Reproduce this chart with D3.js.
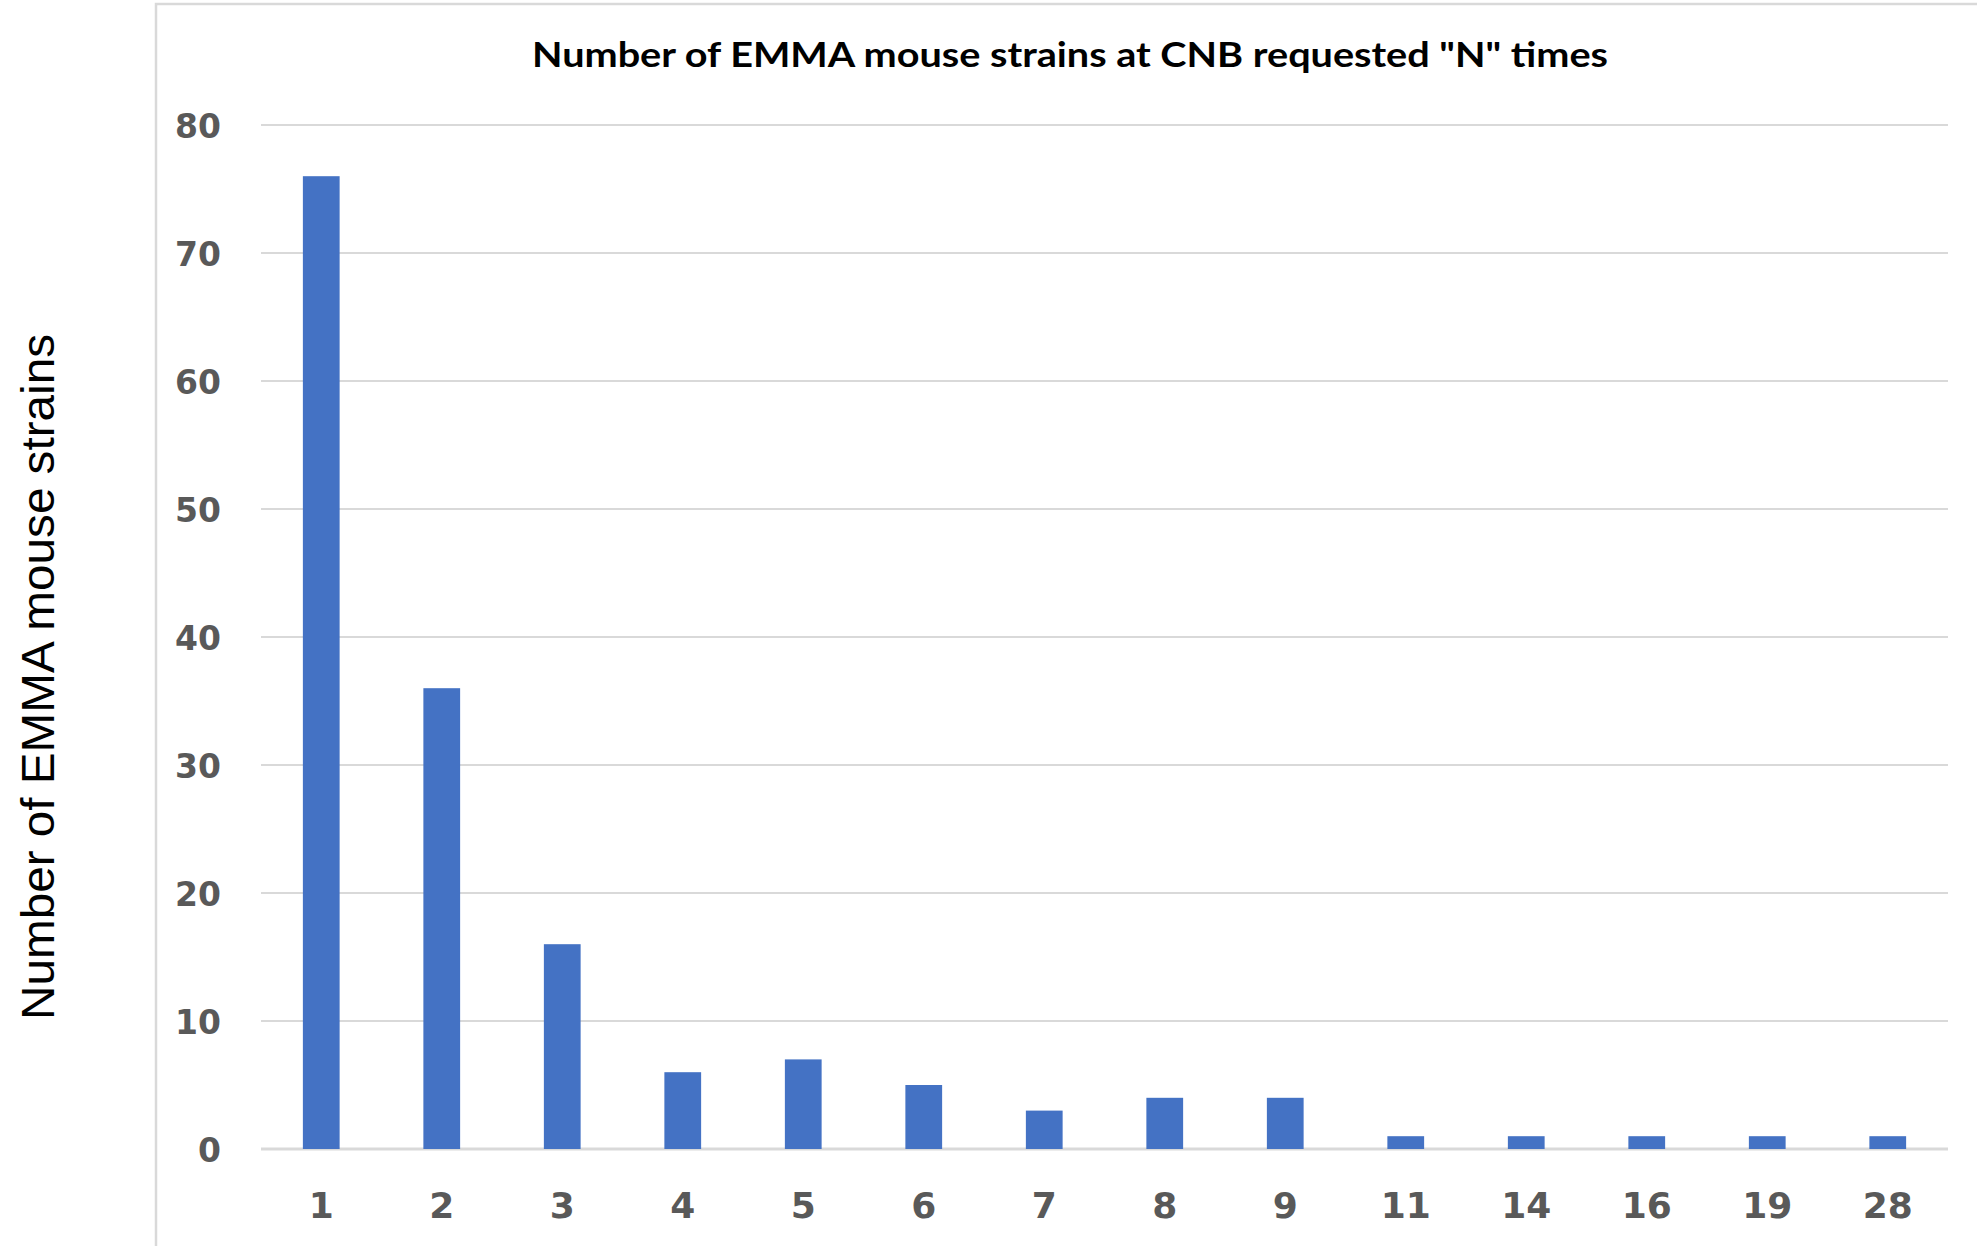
<!DOCTYPE html>
<html><head><meta charset="utf-8">
<script src="https://cdn.jsdelivr.net/npm/d3@7"></script>
<style>body{margin:0;background:#fff;} svg{display:block;}</style>
</head><body>
<script>
const categories = ["1","2","3","4","5","6","7","8","9","11","14","16","19","28"];
const values = [76,36,16,6,7,5,3,4,4,1,1,1,1,1];
const yTicks = [0,10,20,30,40,50,60,70,80];
const titleText = 'Number of EMMA mouse strains at CNB requested "N" times';
const yLabelText = "Number of EMMA mouse strains";

const W = 1977, H = 1246;
const svg = d3.select("body").append("svg").attr("width", W).attr("height", H);

// outer frame
svg.append("rect").attr("x",156).attr("y",4).attr("width",W).attr("height",H)
  .attr("fill","none").attr("stroke","#d9d9d9").attr("stroke-width",2.5);

const x = d3.scaleBand().domain(categories).range([261,1948]).paddingInner(0.695).paddingOuter(0.3475);
const y = d3.scaleLinear().domain([0,80]).range([1149,125]);

// gridlines
svg.append("g").selectAll("line").data(yTicks).join("line")
  .attr("x1",261).attr("x2",1948)
  .attr("y1",d=>y(d)).attr("y2",d=>y(d))
  .attr("stroke","#d9d9d9").attr("stroke-width",d=>d===0?3:2.2);

// y tick labels
svg.append("g").selectAll("text").data(yTicks).join("text")
  .attr("x",221).attr("y",d=>y(d)+12.5)
  .attr("text-anchor","end")
  .attr("font-family","'DejaVu Sans', sans-serif").attr("font-weight","bold")
  .attr("font-size",33).attr("fill","#595959")
  .text(d=>d);

// bars
svg.append("g").selectAll("rect").data(values).join("rect")
  .attr("x",(d,i)=>x(categories[i]))
  .attr("width",x.bandwidth())
  .attr("y",d=>y(d))
  .attr("height",d=>y(0)-y(d))
  .attr("fill","#4472C4");

// x tick labels
svg.append("g").selectAll("text").data(categories).join("text")
  .attr("x",d=>x(d)+x.bandwidth()/2).attr("y",1217.5)
  .attr("text-anchor","middle")
  .attr("font-family","'DejaVu Sans', sans-serif").attr("font-weight","bold")
  .attr("font-size",36).attr("fill","#595959")
  .text(d=>d);

// title
svg.append("text").attr("x",1070).attr("y",67).attr("text-anchor","middle")
  .attr("font-family","Lato, sans-serif").attr("font-weight","bold")
  .attr("font-size",35).attr("fill","#000")
  .attr("textLength",1076).attr("lengthAdjust","spacingAndGlyphs")
  .text(titleText);

// y axis label
svg.append("text").attr("transform","translate(53.5,677) rotate(-90)")
  .attr("text-anchor","middle")
  .attr("font-family","'Liberation Sans', Arial, sans-serif")
  .attr("font-size",47).attr("fill","#000")
  .attr("textLength",686).attr("lengthAdjust","spacingAndGlyphs")
  .text(yLabelText);
</script>
</body></html>
